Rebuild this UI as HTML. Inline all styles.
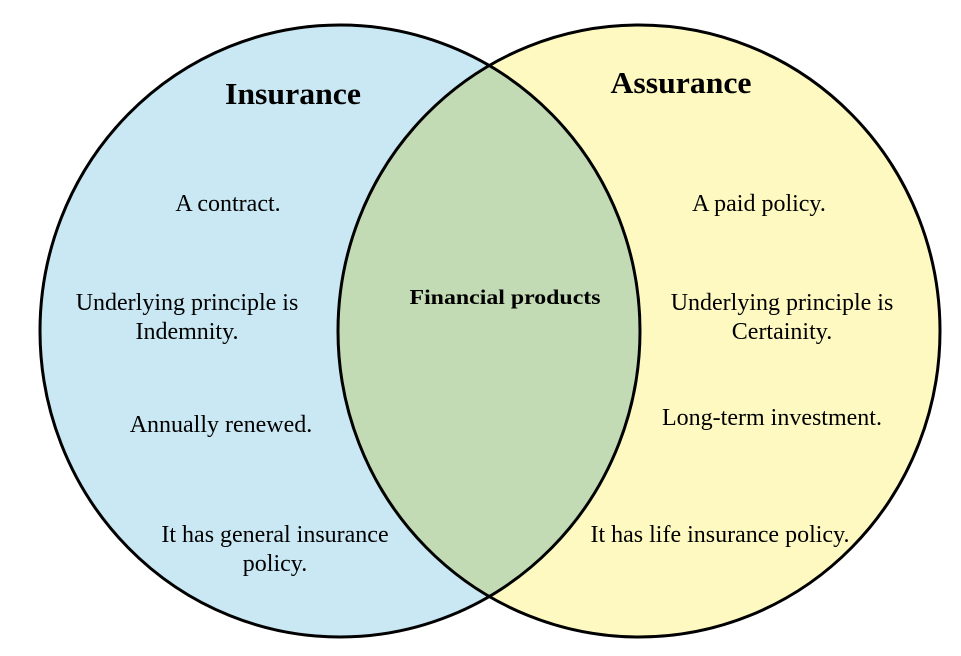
<!DOCTYPE html>
<html><head><meta charset="utf-8"><style>
html,body{margin:0;padding:0;background:#fff;}
svg text{font-family:"Liberation Serif",serif;fill:#000;}
</style></head><body>
<svg width="961" height="651" viewBox="0 0 961 651" xmlns="http://www.w3.org/2000/svg">
<defs>
<clipPath id="cl"><ellipse cx="340" cy="331" rx="300" ry="306"/></clipPath>
</defs>
<rect width="961" height="651" fill="#fff"/>
<ellipse cx="340" cy="331" rx="300" ry="306" fill="#c9e8f3"/>
<ellipse cx="639" cy="331" rx="301" ry="306" fill="#fdf9c0"/>
<ellipse cx="639" cy="331" rx="301" ry="306" fill="#c2dbb4" clip-path="url(#cl)"/>
<ellipse cx="340" cy="331" rx="300" ry="306" fill="none" stroke="#000" stroke-width="3"/>
<ellipse cx="639" cy="331" rx="301" ry="306" fill="none" stroke="#000" stroke-width="3"/>
<text x="293" y="104" font-size="31" font-weight="bold" text-anchor="middle" textLength="136" lengthAdjust="spacingAndGlyphs">Insurance</text>
<text x="681" y="93" font-size="31" font-weight="bold" text-anchor="middle" textLength="141" lengthAdjust="spacingAndGlyphs">Assurance</text>
<g font-size="24" text-anchor="middle">
<text x="228" y="211">A contract.</text>
<text x="187" y="310">Underlying principle is</text>
<text x="187" y="339">Indemnity.</text>
<text x="221" y="432">Annually renewed.</text>
<text x="275" y="542">It has general insurance</text>
<text x="275" y="571">policy.</text>
<text x="759" y="211">A paid policy.</text>
<text x="782" y="310">Underlying principle is</text>
<text x="782" y="339">Certainity.</text>
<text x="772" y="425">Long-term investment.</text>
<text x="720" y="542">It has life insurance policy.</text>
</g>
<text x="505" y="304" font-size="21" font-weight="bold" text-anchor="middle" textLength="191" lengthAdjust="spacingAndGlyphs">Financial products</text>
</svg>
</body></html>
